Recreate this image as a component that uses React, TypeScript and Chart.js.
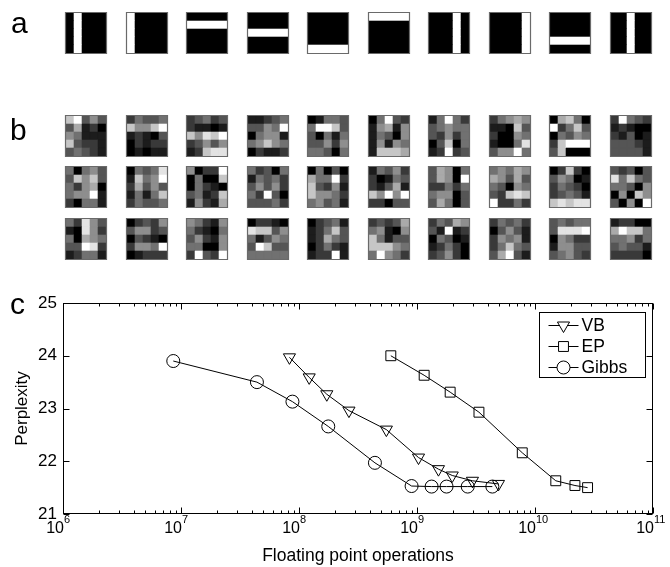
import React, { useEffect, useRef } from 'react';
import { Chart, registerables } from 'chart.js';

Chart.register(...registerables);

const FONT = '"Liberation Sans", Arial, Helvetica, sans-serif';

// ---------- Panel a: ten 5x5 basis patches, each black with one white bar ----------
const panelABarOrientation = ['col', 'col', 'row', 'row', 'row', 'row', 'col', 'col', 'row', 'col'];
const panelABarIndex = [1, 0, 1, 2, 4, 0, 3, 4, 3, 2];

// ---------- Panel b: 3 x 10 learned 5x5 patches, gray level 0 (black) .. 9 (white), rows split by spaces ----------
const panelBRow1 = [
  '79353 36120 54111 73221 34321',
  '24334 75579 12103 02122 01011',
  '23423 21101 75879 23535 12788',
  '11234 33549 04551 45754 02112',
  '01443 49973 30414 33525 44304',
  '04932 15615 14305 15154 17776',
  '14942 34544 32524 03704 12923',
  '24565 11073 20054 10048 35594',
  '06740 92473 04354 27999 37000',
  '29432 12100 21301 33321 33331',
];
const panelBRow2 = [
  '40453 37573 42560 45591 20441',
  '04348 17459 26353 14147 24334',
  '50229 04007 04210 34127 15216',
  '42304 14342 35352 42930 33342',
  '04030 64492 73251 75542 45341',
  '14352 20143 21361 75959 22033',
  '36504 36509 22424 45503 36403',
  '45465 65363 43054 32787 92242',
  '02720 35401 24320 23431 78788',
  '32303 84743 44305 05075 30509',
];
const panelBRow3 = [
  '42853 10852 40654 33982 12441',
  '02325 35523 03210 25549 01222',
  '54215 42104 35215 44005 29329',
  '02210 87735 41354 39733 44444',
  '02341 12473 12643 02421 12291',
  '23236 45105 74133 77754 49542',
  '24365 31912 04301 12420 23520',
  '24342 03531 25451 24743 36931',
  '34344 38889 05422 15533 34532',
  '12200 69774 44524 34331 22220',
];

// ---------- Panel c: perplexity vs floating point operations ----------
const seriesLabels = ['VB', 'EP', 'Gibbs'];
const vbFlops = [8.3e7, 1.22e8, 1.72e8, 2.65e8, 5.5e8, 1.03e9, 1.52e9, 1.99e9, 2.95e9, 4.9e9];
const vbPerplexity = [23.97, 23.59, 23.27, 22.96, 22.6, 22.07, 21.85, 21.73, 21.63, 21.57];
const epFlops = [6.0e8, 1.15e9, 1.91e9, 3.35e9, 7.8e9, 1.5e10, 2.18e10, 2.79e10];
const epPerplexity = [24.0, 23.63, 23.31, 22.93, 22.16, 21.63, 21.54, 21.5];
const gibbsFlops = [8.6e6, 4.4e7, 8.8e7, 1.77e8, 4.4e8, 9.0e8, 1.33e9, 1.78e9, 2.69e9, 4.35e9];
const gibbsPerplexity = [23.9, 23.5, 23.13, 22.66, 21.97, 21.53, 21.52, 21.52, 21.52, 21.52];
const xTickExponents = [6, 7, 8, 9, 10, 11];
const yTicks = [21, 22, 23, 24, 25];

// ---------- layout constants (page pixels) ----------
const CELL = 8;
const GRID = 5;
const TILE_X0 = 66;
const TILE_STEP = 60.5;
const PANEL_A_TOP = 13;
const PANEL_B_TOPS = [116, 167, 219];
const AB_W = 670;
const AB_H = 270;
const C_TOP = 285;
const C_H = 282;

function grayOf(level: number) {
  const g = Math.round((level / 9) * 255);
  return `rgb(${g},${g},${g})`;
}

function parsePatch(s: string): number[][] {
  return s.split(' ').map((row) => row.split('').map((ch) => Number(ch)));
}

function panelAPatch(i: number): number[][] {
  const out: number[][] = [];
  for (let r = 0; r < GRID; r++) {
    const row: number[] = [];
    for (let c = 0; c < GRID; c++) {
      const idx = panelABarOrientation[i] === 'col' ? c : r;
      row.push(idx === panelABarIndex[i] ? 9 : 0);
    }
    out.push(row);
  }
  return out;
}

function buildPatchData() {
  const cells: { x: number; y: number }[] = [];
  const colors: string[] = [];
  const frames: { x: number; y: number }[] = [];
  const addTile = (levels: number[][], left: number, top: number) => {
    for (let r = 0; r < GRID; r++) {
      for (let c = 0; c < GRID; c++) {
        cells.push({ x: left + (c + 0.5) * CELL, y: top + (r + 0.5) * CELL });
        colors.push(grayOf(levels[r][c]));
      }
    }
    frames.push({ x: left + (GRID * CELL) / 2, y: top + (GRID * CELL) / 2 });
  };
  panelABarIndex.forEach((_, i) => addTile(panelAPatch(i), Math.round(TILE_X0 + i * TILE_STEP), PANEL_A_TOP));
  [panelBRow1, panelBRow2, panelBRow3].forEach((row, ri) => {
    row.forEach((s, i) => addTile(parsePatch(s), Math.round(TILE_X0 + i * TILE_STEP), PANEL_B_TOPS[ri]));
  });
  return { cells, colors, frames };
}

function unitPx(ctx: any, units: number) {
  const sx = ctx.chart.scales.x;
  return Math.abs(sx.getPixelForValue(units) - sx.getPixelForValue(0));
}

function patchConfig(): any {
  const { cells, colors, frames } = buildPatchData();
  return {
    type: 'scatter',
    data: {
      datasets: [
        {
          data: frames,
          pointStyle: 'rect',
          pointRadius: (ctx: any) => unitPx(ctx, GRID * CELL + 1) / Math.SQRT2,
          pointBackgroundColor: 'rgba(0,0,0,0)',
          pointBorderColor: '#6a6a6a',
          pointBorderWidth: 1.2,
          clip: false,
        },
        {
          data: cells,
          pointStyle: 'rect',
          pointRadius: (ctx: any) => unitPx(ctx, CELL) / Math.SQRT2,
          pointBackgroundColor: colors,
          pointBorderColor: colors,
          pointBorderWidth: 0.6,
          clip: false,
        },
      ],
    },
    options: {
      animation: false,
      responsive: false,
      events: [],
      layout: { padding: 0 },
      plugins: { legend: { display: false }, tooltip: { enabled: false } },
      scales: {
        x: { type: 'linear', display: false, min: 0, max: AB_W },
        y: { type: 'linear', display: false, min: 0, max: AB_H, reverse: true },
      },
    },
  };
}

const markerStyles = ['triangle', 'rect', 'circle'];
const markerRadii = [7, 7, 6.5];

function drawMarker(ctx: CanvasRenderingContext2D, style: string, r: number, x: number, y: number) {
  ctx.beginPath();
  if (style === 'triangle') {
    let rad = Math.PI;
    ctx.moveTo(x + Math.sin(rad) * r, y - Math.cos(rad) * r);
    rad += (2 * Math.PI) / 3;
    ctx.lineTo(x + Math.sin(rad) * r, y - Math.cos(rad) * r);
    rad += (2 * Math.PI) / 3;
    ctx.lineTo(x + Math.sin(rad) * r, y - Math.cos(rad) * r);
    ctx.closePath();
  } else if (style === 'rect') {
    const s = Math.SQRT1_2 * r;
    ctx.rect(x - s, y - s, 2 * s, 2 * s);
  } else {
    ctx.arc(x, y, r, 0, Math.PI * 2);
  }
  ctx.fillStyle = '#fff';
  ctx.fill();
  ctx.stroke();
}

const frameTicksPlugin = {
  id: 'frameTicks',
  afterDatasetsDraw(chart: any) {
    const { ctx, chartArea: a } = chart;
    const sx = chart.scales.x;
    const sy = chart.scales.y;
    ctx.save();
    ctx.strokeStyle = '#000';
    ctx.lineWidth = 1;
    const L = Math.round(a.left) + 0.5;
    const R = Math.round(a.right) - 0.5;
    const T = Math.round(a.top) + 0.5;
    const B = Math.round(a.bottom) - 0.5;
    ctx.strokeRect(L, T, R - L, B - T);
    ctx.beginPath();
    const e0 = xTickExponents[0];
    const e1 = xTickExponents[xTickExponents.length - 1];
    for (let e = e0; e <= e1; e++) {
      for (let k = 1; k <= 9; k++) {
        const v = k * Math.pow(10, e);
        if (v > Math.pow(10, e1)) break;
        const px = Math.round(sx.getPixelForValue(v)) + 0.5;
        const len = k === 1 ? 6 : 3;
        ctx.moveTo(px, B);
        ctx.lineTo(px, B - len);
        ctx.moveTo(px, T);
        ctx.lineTo(px, T + len);
      }
    }
    yTicks.forEach((v) => {
      const py = Math.round(sy.getPixelForValue(v)) + 0.5;
      ctx.moveTo(L, py);
      ctx.lineTo(L + 6, py);
      ctx.moveTo(R, py);
      ctx.lineTo(R - 6, py);
    });
    ctx.stroke();

    // x tick labels: 10 with superscript exponent
    ctx.fillStyle = '#000';
    ctx.textBaseline = 'alphabetic';
    xTickExponents.forEach((e) => {
      const px = sx.getPixelForValue(Math.pow(10, e));
      ctx.font = `16px ${FONT}`;
      ctx.textAlign = 'right';
      ctx.fillText('10', px + 1, a.bottom + 18.5);
      ctx.font = `11px ${FONT}`;
      ctx.textAlign = 'left';
      ctx.fillText(String(e), px + 1, a.bottom + 9);
    });
    ctx.restore();
  },
  afterDraw(chart: any) {
    const { ctx, chartArea: a } = chart;
    ctx.save();
    const boxW = 106;
    const boxH = 65;
    const left = Math.round(a.right - 8 - boxW) + 0.5;
    const top = Math.round(a.top + 9) + 0.5;
    ctx.fillStyle = '#fff';
    ctx.strokeStyle = '#000';
    ctx.lineWidth = 1;
    ctx.fillRect(left, top, boxW, boxH);
    ctx.strokeRect(left, top, boxW, boxH);
    chart.data.datasets.forEach((ds: any, i: number) => {
      const y = Math.round(top + 12 + i * 21) + 0.5;
      ctx.beginPath();
      ctx.moveTo(left + 9, y);
      ctx.lineTo(left + 39, y);
      ctx.stroke();
      drawMarker(ctx, markerStyles[i], markerRadii[i], left + 24, y);
      ctx.fillStyle = '#000';
      ctx.font = `17.5px ${FONT}`;
      ctx.textAlign = 'left';
      ctx.textBaseline = 'middle';
      ctx.fillText(ds.label, left + 42, y + 1);
    });
    ctx.restore();
  },
};

function makeSeries(i: number, xs: number[], ys: number[]) {
  return {
    label: seriesLabels[i],
    data: xs.map((x, j) => ({ x, y: ys[j] })),
    showLine: true,
    borderColor: '#000',
    borderWidth: 1,
    fill: false,
    pointStyle: markerStyles[i],
    pointRotation: markerStyles[i] === 'triangle' ? 180 : 0,
    pointRadius: markerRadii[i],
    pointBorderColor: '#000',
    pointBorderWidth: 1,
    pointBackgroundColor: 'rgba(0,0,0,0)',
  };
}

function lineConfig(): any {
  return {
    type: 'scatter',
    data: {
      datasets: [
        makeSeries(0, vbFlops, vbPerplexity),
        makeSeries(1, epFlops, epPerplexity),
        makeSeries(2, gibbsFlops, gibbsPerplexity),
      ],
    },
    plugins: [frameTicksPlugin],
    options: {
      animation: false,
      responsive: false,
      events: [],
      layout: { padding: { top: 18, right: 17, left: 0, bottom: 0 } },
      plugins: { legend: { display: false }, tooltip: { enabled: false } },
      scales: {
        x: {
          type: 'logarithmic',
          min: Math.pow(10, xTickExponents[0]),
          max: Math.pow(10, xTickExponents[xTickExponents.length - 1]),
          afterBuildTicks: (s: any) => {
            s.ticks = xTickExponents.map((e) => ({ value: Math.pow(10, e) }));
          },
          afterFit: (s: any) => {
            s.height = 53;
          },
          grid: { display: false, drawTicks: false },
          border: { display: false },
          ticks: { display: false },
          title: {
            display: true,
            text: 'Floating point operations',
            color: '#000',
            font: { family: FONT, size: 17.5 },
            padding: { top: 0, bottom: 0 },
          },
        },
        y: {
          type: 'linear',
          min: yTicks[0],
          max: yTicks[yTicks.length - 1],
          afterBuildTicks: (s: any) => {
            s.ticks = yTicks.map((v) => ({ value: v }));
          },
          afterFit: (s: any) => {
            s.width = 63;
          },
          grid: { display: false, drawTicks: false },
          border: { display: false },
          ticks: { color: '#000', font: { family: FONT, size: 17 }, padding: 6 },
          title: {
            display: true,
            text: 'Perplexity',
            color: '#000',
            font: { family: FONT, size: 17 },
            padding: { top: 12, bottom: 0 },
          },
        },
      },
    },
  };
}

const labelStyle: React.CSSProperties = {
  position: 'absolute',
  fontSize: 30,
  lineHeight: '30px',
  fontFamily: FONT,
  color: '#000',
};

export default function App() {
  const abRef = useRef<HTMLCanvasElement>(null);
  const cRef = useRef<HTMLCanvasElement>(null);
  useEffect(() => {
    const ab = new Chart(abRef.current as HTMLCanvasElement, patchConfig());
    const c = new Chart(cRef.current as HTMLCanvasElement, lineConfig());
    return () => {
      ab.destroy();
      c.destroy();
    };
  }, []);
  return (
    <div
      style={{
        position: 'absolute',
        left: 0,
        top: 0,
        width: 670,
        height: 567,
        background: '#fff',
        overflow: 'hidden',
      }}
    >
      <canvas ref={abRef} width={AB_W} height={AB_H} style={{ position: 'absolute', left: 0, top: 0 }} />
      <canvas ref={cRef} width={670} height={C_H} style={{ position: 'absolute', left: 0, top: C_TOP }} />
      <span style={{ ...labelStyle, left: 11, top: 8 }}>a</span>
      <span style={{ ...labelStyle, left: 10, top: 115 }}>b</span>
      <span style={{ ...labelStyle, left: 10, top: 289 }}>c</span>
    </div>
  );
}
